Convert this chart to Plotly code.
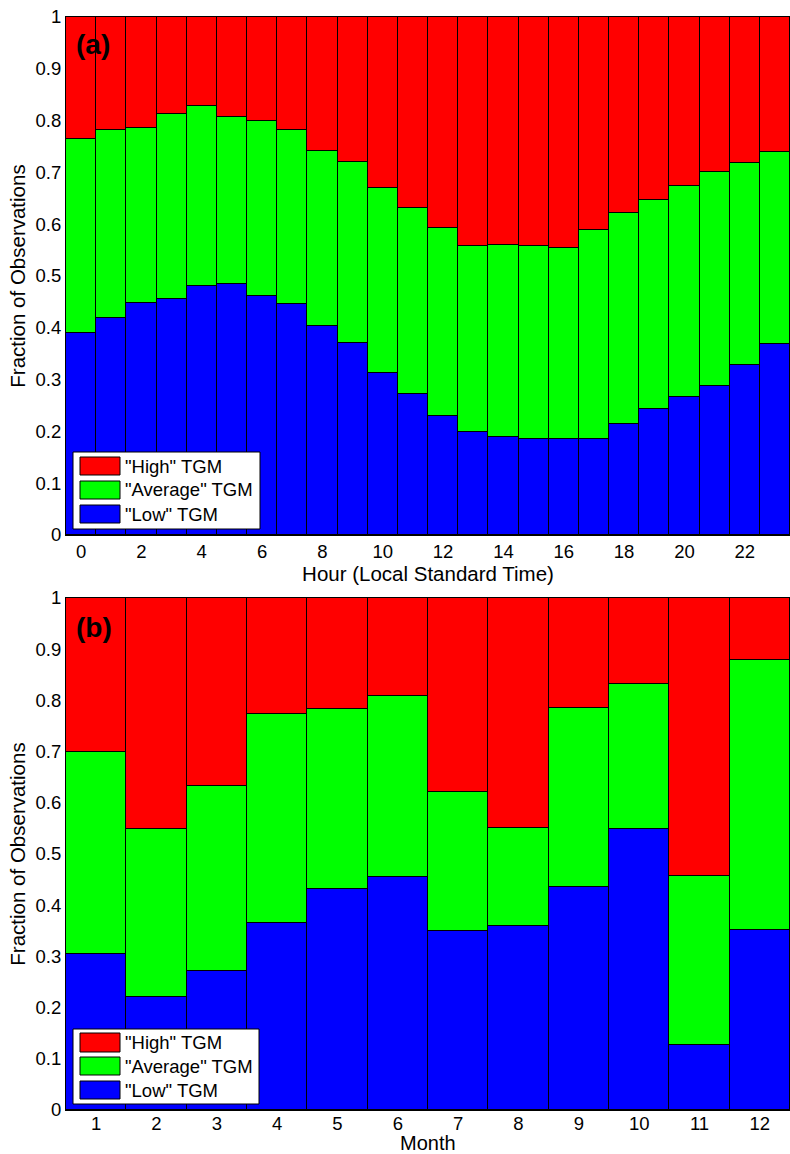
import plotly.graph_objects as go

# Diurnal cycle: fraction of observations per hour (local standard time)
hours = list(range(24))
hour_low = [0.390, 0.418, 0.447, 0.456, 0.481, 0.485, 0.462, 0.445, 0.403, 0.371,
            0.313, 0.272, 0.230, 0.198, 0.189, 0.185, 0.185, 0.185, 0.214, 0.243,
            0.266, 0.287, 0.328, 0.369]
hour_low_avg = [0.764, 0.781, 0.786, 0.813, 0.828, 0.806, 0.800, 0.782, 0.742, 0.721,
                0.670, 0.631, 0.593, 0.558, 0.560, 0.557, 0.555, 0.589, 0.621, 0.646,
                0.674, 0.701, 0.718, 0.739]

# Seasonal cycle: fraction of observations per month
months = list(range(1, 13))
month_low = [0.304, 0.221, 0.271, 0.365, 0.431, 0.455, 0.349, 0.359, 0.435, 0.548,
             0.126, 0.351]
month_low_avg = [0.699, 0.548, 0.633, 0.773, 0.783, 0.808, 0.621, 0.551, 0.785, 0.833,
                 0.458, 0.879]

hour_ticks = list(range(0, 24, 2))
month_ticks = months
y_ticks = [i / 10 for i in range(11)]
y_tick_text = ["0"] + [f"0.{i}" for i in range(1, 10)] + ["1"]

series_names = ['"Low" TGM', '"Average" TGM', '"High" TGM']
series_colors = ["#0000FF", "#00FF00", "#FF0000"]

FONT = "Liberation Sans, Arial, Helvetica, sans-serif"
W, H = 790, 1154
ML, MR, MT, MB = 66, 0, 17, 44
PW, PH = W - ML - MR, H - MT - MB


def px_x(px):
    return (px - ML) / PW


def px_y(py):
    return (H - MB - py) / PH


def split(low, low_avg):
    avg = [b - a for a, b in zip(low, low_avg)]
    high = [1 - b for b in low_avg]
    return [low, avg, high]


fig = go.Figure()
for xs, parts, xa, ya in [
    (hours, split(hour_low, hour_low_avg), "x", "y"),
    (months, split(month_low, month_low_avg), "x2", "y2"),
]:
    for name, color, vals in zip(series_names, series_colors, parts):
        fig.add_trace(go.Bar(
            x=xs, y=vals, name=name, xaxis=xa, yaxis=ya,
            marker=dict(color=color, line=dict(color="black", width=1)),
            width=1, showlegend=False,
        ))

axis_common = dict(
    showgrid=False, zeroline=False, showline=True, linecolor="black",
    linewidth=1, mirror=True, ticks="", color="black",
    tickfont=dict(family=FONT, size=18.5, color="black"),
)

fig.update_layout(
    width=W, height=H, barmode="stack", bargap=0,
    paper_bgcolor="white", plot_bgcolor="white",
    margin=dict(l=ML, r=MR, t=MT, b=MB, autoexpand=False),
    font=dict(family=FONT, color="black"),
    xaxis=dict(domain=[0, 1], anchor="y", range=[-0.5, 23.5],
               tickvals=hour_ticks, ticktext=[str(h) for h in hour_ticks],
               title=dict(text="Hour (Local Standard Time)",
                          font=dict(family=FONT, size=20.5), standoff=2),
               **axis_common),
    yaxis=dict(domain=[px_y(535), 1], anchor="x", range=[0, 1],
               tickvals=y_ticks, ticktext=y_tick_text,
               title=dict(text="Fraction of Observations",
                          font=dict(family=FONT, size=20.5), standoff=4),
               **axis_common),
    xaxis2=dict(domain=[0, 1], anchor="y2", range=[0.5, 12.5],
                tickvals=month_ticks, ticktext=[str(m) for m in month_ticks],
                ticklabelstandoff=-3,
                **axis_common),
    yaxis2=dict(domain=[0, px_y(598)], anchor="x2", range=[0, 1],
                tickvals=y_ticks, ticktext=y_tick_text,
                title=dict(text="Fraction of Observations",
                           font=dict(family=FONT, size=20.5), standoff=4),
                **axis_common),
)

shapes = []
annotations = []

# Month axis title, placed below the month tick labels
annotations.append(dict(
    text="Month", xref="paper", yref="paper", x=0.5, y=px_y(1143),
    xanchor="center", yanchor="middle", showarrow=False,
    font=dict(family=FONT, size=20, color="black"),
))

# Panel letters
for label, cy in [("<b>(a)</b>", 45), ("<b>(b)</b>", 627)]:
    annotations.append(dict(
        text=label, xref="paper", yref="paper", x=px_x(74), y=px_y(cy),
        xanchor="left", yanchor="middle", showarrow=False,
        font=dict(family=FONT, size=28, color="black"),
    ))

# Legend boxes drawn in each panel (High, Average, Low from top)
legend_layouts = [
    dict(box=(73, 452, 260, 529), rows=[(457, 475), (481, 499), (505, 523)]),
    dict(box=(73, 1029, 259, 1104), rows=[(1033, 1052), (1057, 1075), (1081, 1099)]),
]
legend_order = list(zip(series_names, series_colors))[::-1]
for lay in legend_layouts:
    x0, y0, x1, y1 = lay["box"]
    shapes.append(dict(type="rect", xref="paper", yref="paper",
                       x0=px_x(x0), x1=px_x(x1), y0=px_y(y1), y1=px_y(y0),
                       fillcolor="white", line=dict(color="black", width=1)))
    for (name, color), (ry0, ry1) in zip(legend_order, lay["rows"]):
        shapes.append(dict(type="rect", xref="paper", yref="paper",
                           x0=px_x(80), x1=px_x(120), y0=px_y(ry1), y1=px_y(ry0),
                           fillcolor=color, line=dict(color="black", width=1)))
        annotations.append(dict(
            text=name, xref="paper", yref="paper", x=px_x(123), y=px_y((ry0 + ry1) / 2),
            xanchor="left", yanchor="middle", showarrow=False,
            font=dict(family=FONT, size=18.5, color="black"),
        ))

fig.update_layout(shapes=shapes, annotations=annotations)
fig.write_html("out.html")
